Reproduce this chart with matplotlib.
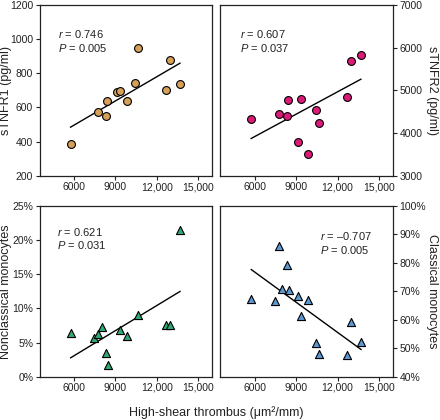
import numpy as np
import matplotlib
matplotlib.use('Agg')
import matplotlib.pyplot as plt
from matplotlib.ticker import FixedLocator, FuncFormatter

plt.rcParams['font.family'] = ['Liberation Sans', 'DejaVu Sans']
plt.rcParams['mathtext.fontset'] = 'custom'
plt.rcParams['mathtext.rm'] = 'Liberation Sans'
plt.rcParams['mathtext.it'] = 'Liberation Sans:italic'

# high-shear thrombus (um^2/mm) vs soluble TNF receptors
tnf_x = [5750, 7740, 8340, 8410, 9100, 9360, 9860, 10440, 10620, 12650, 12940, 13680]
tnfr1 = [385, 573, 550, 639, 689, 695, 639, 740, 948, 701, 876, 736]
tnfr2 = [4328, 4459, 4405, 4768, 3803, 4807, 3517, 4544, 4236, 4838, 5680, 5834]

# monocyte subsets (%)
ncm_x = [5760, 7450, 7760, 8030, 8320, 8440, 9355, 9860, 10640, 12645, 12955, 13680]
ncm = [6.4, 5.7, 6.3, 7.3, 3.5, 1.7, 6.8, 5.9, 9.1, 7.6, 7.6, 21.5]
cm_x = [5760, 7470, 7760, 8000, 8340, 8460, 9135, 9355, 9880, 10460, 10630, 12655, 12945, 13690]
cm = [67.4, 66.6, 86.0, 70.8, 79.1, 70.6, 68.5, 61.5, 67.1, 52.0, 47.9, 47.5, 59.2, 52.1]

r_vals = ['0.746', '0.607', '0.621', '\u20130.707']
p_vals = ['0.005', '0.037', '0.031', '0.005']
ylabels = ['sTNFR1 (pg/ml)', 'sTNFR2 (pg/ml)', 'Nonclassical monocytes', 'Classical monocytes']
xticks = [6000, 9000, 12000, 15000]
xticklabels = ['6000', '9000', '12,000', '15,000']

W, H = 440, 420
fig = plt.figure(figsize=(W / 100, H / 100), dpi=100)

def px_axes(x0, y0, x1, y1):
    return fig.add_axes([x0 / W, 1 - y1 / H, (x1 - x0) / W, (y1 - y0) / H])

ax1 = px_axes(39.5, 4.7, 212, 176)
ax2 = px_axes(220, 4.7, 393, 176)
ax3 = px_axes(39.5, 206, 212, 376.7)
ax4 = px_axes(220, 206, 393, 376.7)

panels = [
    (ax1, tnf_x, tnfr1, 'o', '#D7A05A', (200, 1200), range(200, 1201, 200), '{:.0f}', 'left'),
    (ax2, tnf_x, tnfr2, 'o', '#DD1A78', (3000, 7000), range(3000, 7001, 1000), '{:.0f}', 'right'),
    (ax3, ncm_x, ncm, '^', '#2FA874', (0, 25), range(0, 26, 5), '{:.0f}%', 'left'),
    (ax4, cm_x, cm, '^', '#5B98D2', (40, 100), range(40, 101, 10), '{:.0f}%', 'right'),
]
text_pos = [(58, 33.5, 48), (240, 33.5, 48), (57, 232.5, 245), (320, 235.5, 249.5)]

for i, (ax, x, y, mk, col, ylim, yt, fmt, side) in enumerate(panels):
    x = np.array(x); y = np.array(y)
    b, a = np.polyfit(x, y, 1)
    xx = np.array([x.min(), x.max()])
    ax.plot(xx, a + b * xx, color='black', lw=1.0, zorder=2)
    ax.scatter(x, y, marker=mk, s=32 if mk == 'o' else 34, facecolor=col,
               edgecolor='black', linewidth=0.8, zorder=3)
    ax.set_xlim(3500, 16000)
    ax.set_ylim(*ylim)
    ax.xaxis.set_major_locator(FixedLocator(xticks))
    ax.set_xticklabels(xticklabels)
    ax.yaxis.set_major_locator(FixedLocator(list(yt)))
    ax.yaxis.set_major_formatter(FuncFormatter(lambda v, p, f=fmt: f.format(v)))
    ax.tick_params(labelsize=7.5, colors='#222222', length=3, width=0.8, pad=1.5)
    for sp in ax.spines.values():
        sp.set_linewidth(0.9)
        sp.set_color('#222222')
    if side == 'right':
        ax.yaxis.tick_right()
        ax.yaxis.set_label_position('right')
        ax.set_ylabel(ylabels[i], fontsize=9, rotation=270, va='bottom', color='#222222')
        ax.yaxis.set_label_coords(1.19, 0.5)
    else:
        ax.set_ylabel(ylabels[i], fontsize=9, color='#222222')
        ax.yaxis.set_label_coords(-0.16, 0.5)
    tx, ty1, ty2 = text_pos[i]
    fig.text(tx / W, 1 - ty1 / H, '$r$ = ' + r_vals[i], fontsize=8, va='center', ha='left', color='#222222')
    fig.text(tx / W, 1 - ty2 / H, '$P$ = ' + p_vals[i], fontsize=8, va='center', ha='left', color='#222222')

fig.text(216 / W, 1 - 413 / H, 'High-shear thrombus (\u03bcm\u00b2/mm)', fontsize=9,
         ha='center', va='center', color='#222222')

fig.savefig('out.png', dpi=100)
